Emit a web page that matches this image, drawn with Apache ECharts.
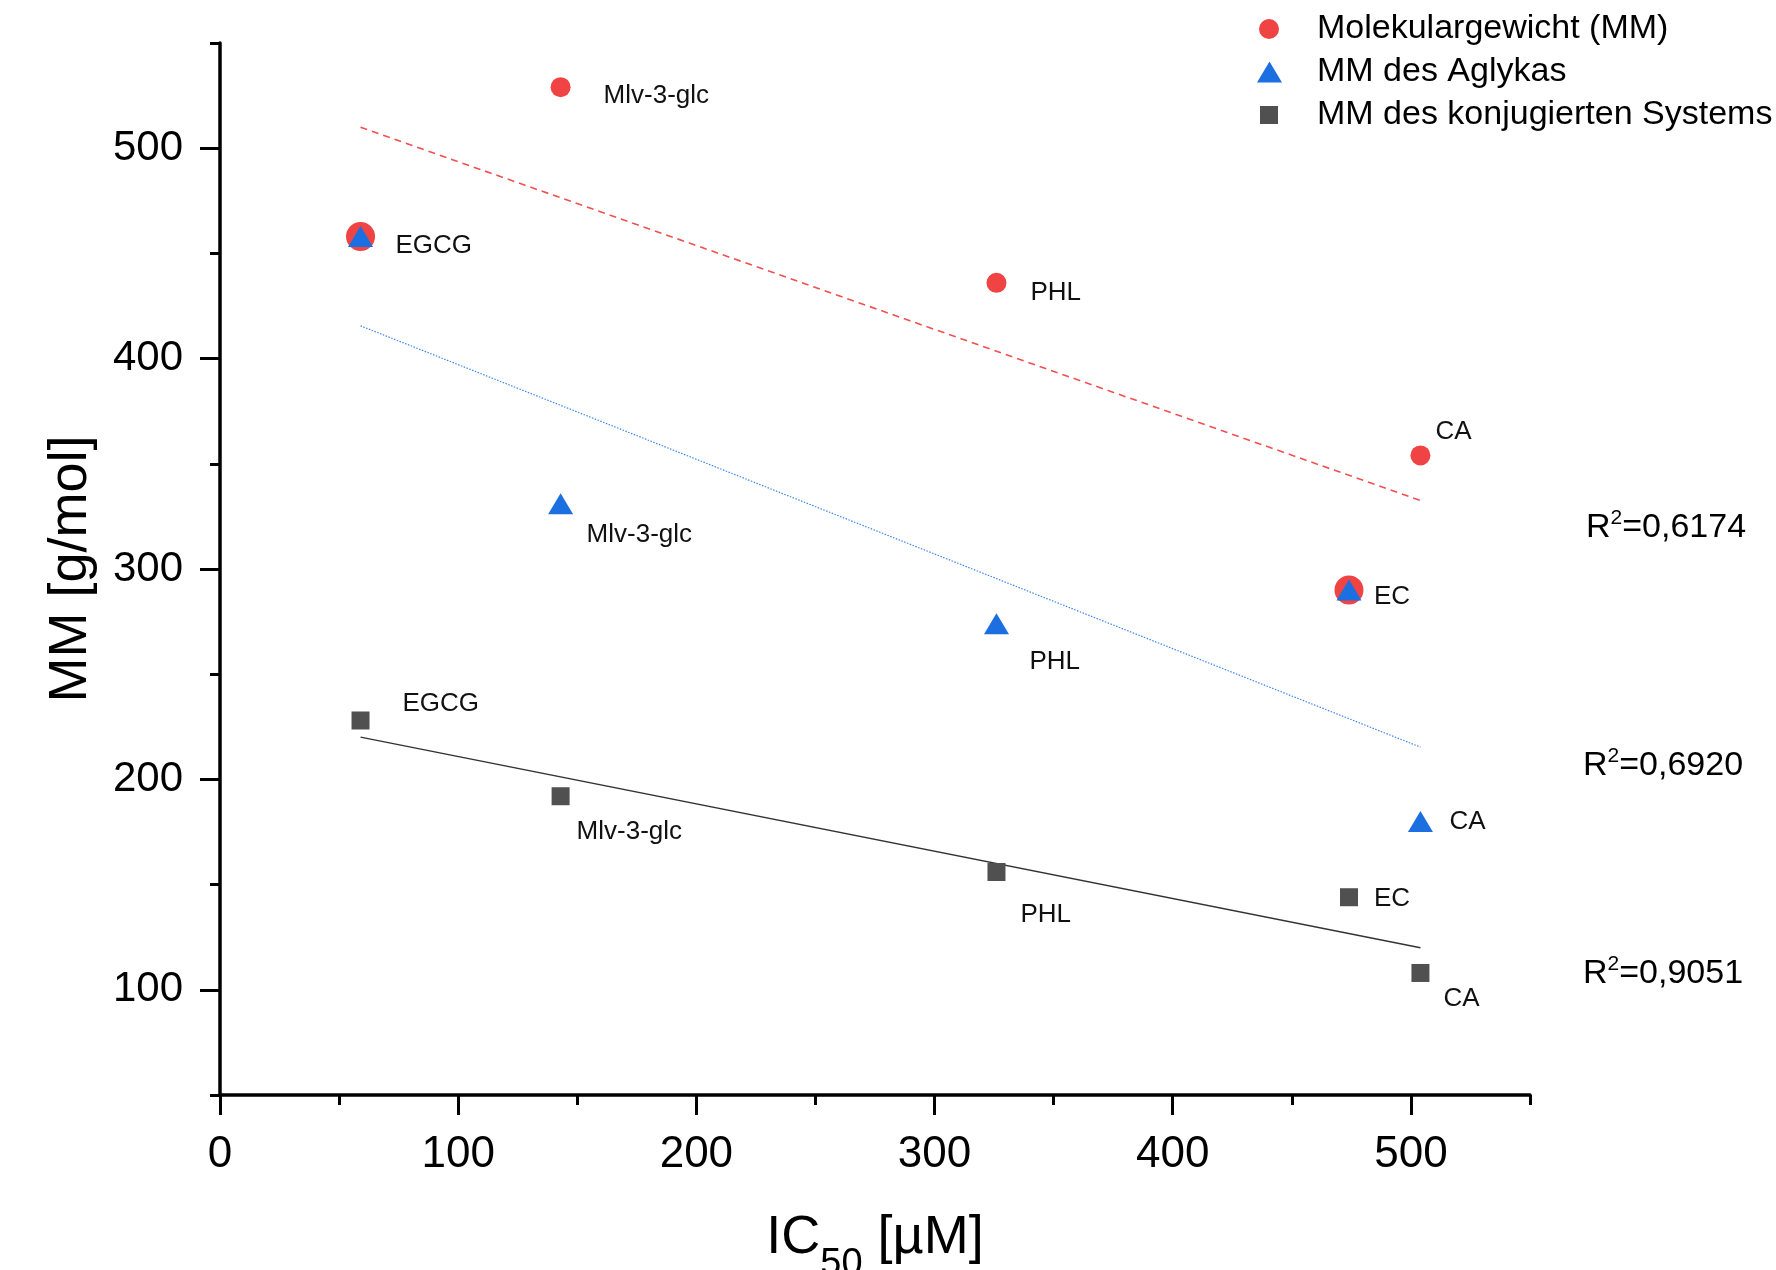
<!DOCTYPE html>
<html>
<head>
<meta charset="utf-8">
<script src="https://cdn.jsdelivr.net/npm/echarts@6/dist/echarts.min.js"></script>
<style>html,body{margin:0;padding:0;background:#fff}#c{width:1776px;height:1270px}</style>
</head>
<body>
<div id="c"></div>
<script>
// ---- data ----
const compounds = ['EGCG', 'Mlv-3-glc', 'PHL', 'EC', 'CA'];
const ic50 = [59, 143, 326, 474, 504];
const mmTotal = [458, 529, 436, 290, 354];
const mmAglycone = [458, 331, 274, 290, 180];
const mmConjugated = [228, 192, 156, 144, 108];
const seriesNames = ['Molekulargewicht (MM)', 'MM des Aglykas', 'MM des konjugierten Systems'];
const r2Values = ['0,6174', '0,6920', '0,9051'];
const xMajorTicks = [0, 100, 200, 300, 400, 500];
const xMinorTicks = [50, 150, 250, 350, 450, 550];
const yMajorTicks = [100, 200, 300, 400, 500];
const yMinorTicks = [50, 150, 250, 350, 450, 550];

// ---- styling config ----
const FONT = 'Liberation Sans, Arial, Helvetica, sans-serif';
const RED = '#f04343', BLUE = '#1c6fe0', GRAY = '#505050';
const bigCircle = {EGCG: true, EC: true};
const redLabelOff = {'EGCG': [35, 9], 'Mlv-3-glc': [43, 9], 'PHL': [34, 10], 'CA': [15, -24], 'EC': [25, 7]};
const blueLabelOff = {'Mlv-3-glc': [26, 31], 'PHL': [33, 38], 'CA': [29, 0]};
const grayLabelOff = {'EGCG': [42, -17], 'Mlv-3-glc': [16, 36], 'PHL': [24, 43], 'EC': [25, 2], 'CA': [23, 26]};

function points(ys, offs) {
  return compounds.map((n, i) => {
    const o = offs[n];
    return {
      name: n,
      value: [ic50[i], ys[i]],
      label: o ? {show: true, offset: o} : {show: false}
    };
  });
}
function fitLine(ys) {
  const n = ic50.length;
  const mx = ic50.reduce((a, b) => a + b, 0) / n;
  const my = ys.reduce((a, b) => a + b, 0) / n;
  let sxy = 0, sxx = 0;
  for (let i = 0; i < n; i++) { sxy += (ic50[i] - mx) * (ys[i] - my); sxx += (ic50[i] - mx) ** 2; }
  const k = sxy / sxx, b = my - k * mx;
  const x0 = Math.min(...ic50), x1 = Math.max(...ic50);
  return [[x0, k * x0 + b], [x1, k * x1 + b]];
}
const ptLabel = {position: 'inside', align: 'left', verticalAlign: 'middle', formatter: '{b}',
  fontSize: 26, color: '#111', fontFamily: FONT};

const chart = echarts.init(document.getElementById('c'), null, {renderer: 'canvas'});
const axisCommon = {
  axisLine: {show: true, lineStyle: {color: '#000', width: 3.5}},
  splitLine: {show: false}
};
function legendOf(i, top, w, h, left, pad) {
  return {
    show: true, orient: 'vertical', left: left, top: top, padding: 0,
    itemWidth: w, itemHeight: h, selectedMode: false,
    data: [seriesNames[i]],
    textStyle: {fontSize: 34, color: '#000', fontFamily: FONT, padding: [0, 0, 0, pad]}
  };
}
const option = {
  animation: false,
  backgroundColor: '#fff',
  textStyle: {fontFamily: FONT},
  grid: {left: 220, right: 246, top: 43, bottom: 175, containLabel: false, outerBoundsMode: 'none'},
  legend: [
    legendOf(0, 12, 20, 20, 1259, 33),
    legendOf(1, 55, 25, 21, 1257, 30),
    legendOf(2, 98, 18, 18, 1260, 34)
  ],
  xAxis: [
    Object.assign({}, axisCommon, {
      type: 'value', min: 0, max: 550, interval: 50, position: 'bottom',
      name: '{a|IC}{s|50}{a| [µM]}', nameLocation: 'middle', nameGap: 113,
      nameTextStyle: {rich: {
        a: {fontSize: 54, lineHeight: 60, color: '#000', fontFamily: FONT},
        s: {fontSize: 38, lineHeight: 38, color: '#000', fontFamily: FONT, padding: [54, 0, 0, 0]}
      }},
      axisTick: {show: true, inside: false, length: 20, lineStyle: {color: '#000', width: 3}, customValues: xMajorTicks},
      axisLabel: {show: true, margin: 38, fontSize: 44, color: '#000', fontFamily: FONT, customValues: xMajorTicks}
    }),
    {
      type: 'value', min: 0, max: 550, interval: 50, position: 'bottom', offset: 0,
      axisLine: {show: false}, splitLine: {show: false}, axisLabel: {show: false},
      axisTick: {show: true, inside: false, length: 10, lineStyle: {color: '#000', width: 3}, customValues: xMinorTicks}
    }
  ],
  yAxis: [
    Object.assign({}, axisCommon, {
      type: 'value', min: 50, max: 550, interval: 50, position: 'left',
      name: 'MM [g/mol]', nameLocation: 'middle', nameGap: 122, nameRotate: 90,
      nameTextStyle: {fontSize: 54, color: '#000', fontFamily: FONT},
      axisTick: {show: true, inside: false, length: 20, lineStyle: {color: '#000', width: 3}, customValues: yMajorTicks},
      axisLabel: {show: true, margin: 37, fontSize: 42, color: '#000', fontFamily: FONT, customValues: yMajorTicks}
    }),
    {
      type: 'value', min: 50, max: 550, interval: 50, position: 'left', offset: 0,
      axisLine: {show: false}, splitLine: {show: false}, axisLabel: {show: false},
      axisTick: {show: true, inside: false, length: 10, lineStyle: {color: '#000', width: 3}, customValues: yMinorTicks}
    }
  ],
  series: [
    {type: 'line', data: fitLine(mmTotal), symbol: 'none', silent: true,
     lineStyle: {color: '#f25050', width: 1.6, type: [7, 5]}, z: 1},
    {type: 'line', data: fitLine(mmAglycone), symbol: 'none', silent: true,
     lineStyle: {color: '#3d86ee', width: 1.2, type: [1.5, 1.5]}, z: 1},
    {type: 'line', data: fitLine(mmConjugated), symbol: 'none', silent: true,
     lineStyle: {color: '#333', width: 1.4}, z: 1},
    {name: seriesNames[0], type: 'scatter', symbol: 'circle',
     symbolSize: (v, p) => bigCircle[p.name] ? 29 : 20,
     itemStyle: {color: RED, opacity: 1}, label: ptLabel, data: points(mmTotal, redLabelOff), z: 3},
    {name: seriesNames[1], type: 'scatter', symbol: 'triangle', symbolSize: [25, 21],
     itemStyle: {color: BLUE, opacity: 1}, label: ptLabel, data: points(mmAglycone, blueLabelOff), z: 4},
    {name: seriesNames[2], type: 'scatter', symbol: 'rect', symbolSize: 18,
     itemStyle: {color: GRAY, opacity: 1}, label: ptLabel, data: points(mmConjugated, grayLabelOff), z: 4}
  ],
  graphic: r2Values.map((v, i) => ({
    type: 'text',
    x: [1586, 1583, 1583][i], y: [528, 766, 974][i],
    style: {
      text: '{a|R}{s|2}{a|=' + v + '}',
      verticalAlign: 'middle',
      rich: {
        a: {fontSize: 34, lineHeight: 40, fill: '#000', fontFamily: FONT},
        s: {fontSize: 21, lineHeight: 21, fill: '#000', fontFamily: FONT, verticalAlign: 'top'}
      }
    }
  }))
};
chart.setOption(option);
</script>
</body>
</html>
